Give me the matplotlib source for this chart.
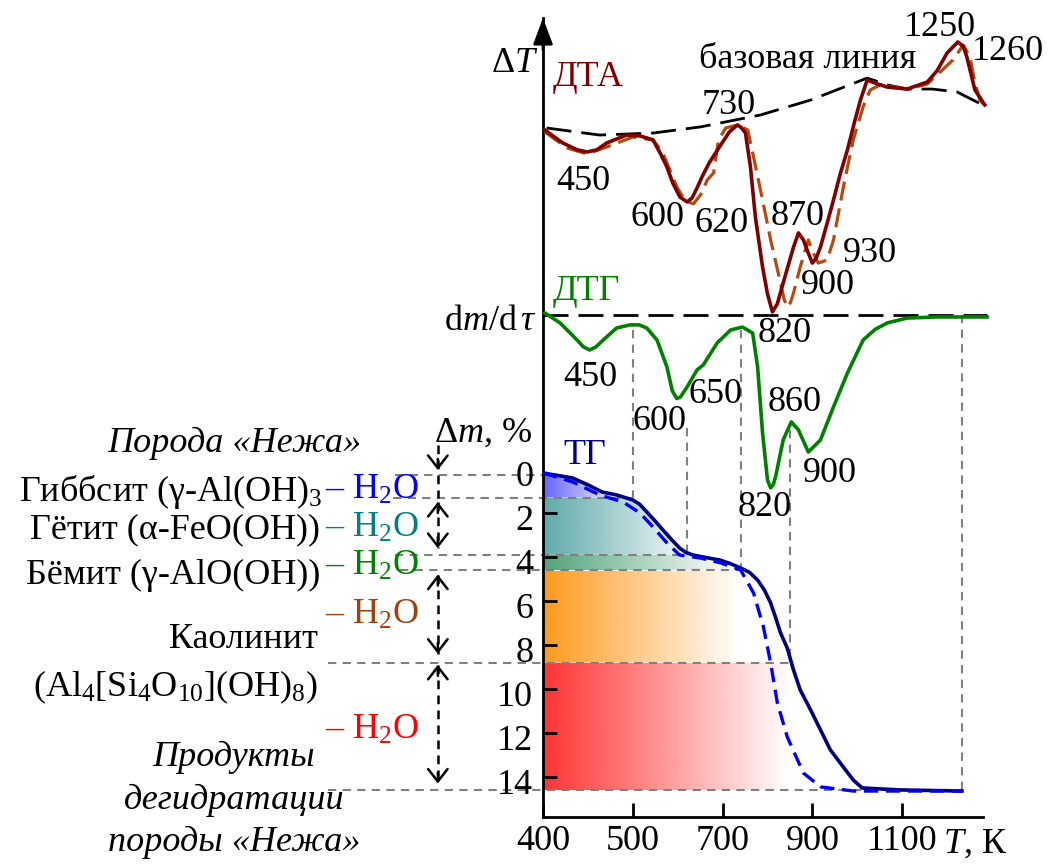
import numpy as np
import matplotlib
matplotlib.use('Agg')
import matplotlib.pyplot as plt
from matplotlib.colors import to_rgb
from matplotlib.patches import Polygon
from matplotlib.transforms import blended_transform_factory

plt.rcParams['font.family'] = ['Liberation Serif', 'DejaVu Serif']
plt.rcParams['mathtext.fontset'] = 'custom'
plt.rcParams['mathtext.rm'] = 'Liberation Serif'
plt.rcParams['mathtext.it'] = 'Liberation Serif:italic'
plt.rcParams['font.size'] = 26

# ── data ──────────────────────────────────────────────────────────────────────
# DTA (arbitrary units, relative to the starting level)
dta_T = [402, 422, 438, 449, 460, 471, 493, 516, 545, 561, 576, 589, 605, 621, 632,
         643, 654, 670, 693, 715, 733, 742, 751, 762, 773, 789, 800, 811, 822, 835,
         847, 858, 869, 880, 891, 900, 909, 918, 932, 947, 962, 978, 993, 1007, 1022,
         1044, 1067, 1111, 1156, 1178, 1200, 1224, 1236, 1244, 1262, 1284]
dta_v = [0, -0.59, -0.9, -1.0, -0.9, -0.59, -0.23, -0.27, -0.45, -1.05, -1.68, -2.41,
         -3.05, -3.27, -3.09, -2.64, -2.14, -1.5, -0.77, -0.09, 0.23, 0.1, -0.14, -1.68,
         -3.95, -6.23, -7.45, -8.27, -7.9, -6.95, -6.1, -5.32, -4.68, -5.0, -5.6, -6.05,
         -5.8, -5.32, -4.3, -3.18, -2.0, -0.91, 0.3, 1.36, 2.27, 2.1, 1.95, 1.86, 2.18,
         2.7, 3.5, 4.0, 3.8, 3.32, 1.82, 1.14]

# DTA, second run (dashed)
dta2_T = [402, 427, 449, 471, 500, 545, 567, 598, 616, 635, 651, 666, 680, 691, 707,
          733, 756, 769, 789, 807, 829, 837, 844, 851, 858, 873, 891, 902, 913, 933,
          947, 969, 991, 1013, 1029, 1051, 1111, 1156, 1213, 1236, 1251, 1262, 1273, 1284]
dta2_v = [-0.09, -0.82, -1.09, -0.77, -0.32, -0.45, -1.05, -2.59, -3.2, -3.36, -2.95,
          -2.27, -1.95, -0.45, 0.09, 0.23, 0.0, -1.23, -3.18, -5.0, -6.95, -7.7, -8.05,
          -7.85, -7.41, -6.23, -5.0, -5.59, -6.05, -5.91, -5.0, -2.59, -0.45, 1.05, 1.82,
          2.05, 1.86, 2.09, 3.18, 3.86, 3.32, 2.14, 1.36, 1.09]

# DTA baseline
base_T = [404, 463, 545, 651, 784, 896, 1022, 1067, 1111, 1167, 1222, 1284]
base_v = [0.09, -0.23, -0.14, 0.14, 0.68, 1.36, 2.36, 2.05, 1.86, 1.86, 1.73, 1.09]

# DTG (arbitrary units)
dtg_T = [402, 419, 438, 445, 452, 459, 467, 482, 497, 514, 531, 554, 576, 588, 598,
         606, 621, 643, 657, 688, 718, 744, 767, 778, 789, 800, 807, 813, 818, 835,
         853, 869, 891, 918, 947, 978, 1013, 1040, 1067, 1111, 1178, 1289]
dtg_v = [0.09, -0.36, -1.14, -1.45, -1.59, -1.45, -1.14, -0.59, -0.45, -0.45, -0.59,
         -1.14, -2.36, -3.45, -3.8, -3.73, -3.27, -2.5, -2.27, -1.27, -0.68, -0.55, -0.82,
         -2.36, -5.36, -7.5, -7.86, -7.7, -7.36, -5.68, -4.86, -5.23, -6.23, -5.68, -4.18,
         -2.64, -1.14, -0.65, -0.36, -0.14, -0.09, -0.09]

# TG, mass loss %
tg_T = [400, 433, 450, 466, 482, 500, 515, 531, 549, 567, 586, 604, 619, 634, 664,
        694, 717, 740, 760, 778, 793, 807, 818, 829, 844, 858, 873, 896, 940, 991,
        1011, 1096, 1233]
tg_dm = [0.18, 0.41, 0.72, 1.05, 1.18, 1.41, 1.6, 1.95, 2.35, 2.77, 3.2, 3.59, 3.8, 3.91,
         4.03, 4.14, 4.3, 4.5, 4.7, 5.05, 5.5, 6.09, 6.75, 7.45, 8.14, 9.14, 10.05, 10.95,
         12.77, 14.14, 14.5, 14.59, 14.64]
tg2_T = [400, 433, 463, 489, 516, 545, 576, 604, 651, 696, 740, 769, 791, 807, 822,
         844, 867, 880, 918, 991, 1233]
tg2_dm = [0.18, 0.59, 1.18, 1.5, 2.0, 2.64, 3.36, 3.91, 4.05, 4.27, 4.59, 5.64, 7.18,
          8.82, 10.64, 12.18, 13.23, 13.82, 14.45, 14.64, 14.64]

# stage boundaries (Δm, %) and the DTG temperatures they are tied to
stage_dm = [0.27, 1.3, 3.9, 4.6, 8.8, 14.6]
stage_T = [400, 500, 620, 742, 851, 1233]
guide_top = [0.0, -0.68, -5.14, -0.68, -5.23, 0.0]   # on the DTG scale

band_colors = ['#6464ff', '#5fa9a9', '#52a27a', '#ff9a1e', '#ff3333']
band_fade_T = [490, 650, 720, 740, 850]

x_ticks = [400, 500, 700, 900, 1100]
tg_ticks = [0, 2, 4, 6, 8, 10, 12, 14]

dta_peaks = [('730', 729, 105), ('450', 583, 182), ('600', 658, 218), ('620', 722, 223),
             ('870', 798, 217), ('900', 828, 285), ('930', 870, 253), ('820', 785, 333),
             ('1250', 940, 27), ('1260', 1008, 52)]
dtg_peaks = [('450', 590, 377), ('600', 660, 422), ('650', 715, 395), ('860', 795, 403),
             ('900', 830, 473), ('820', 765, 508)]

# ── figure ────────────────────────────────────────────────────────────────────
W, H = 1050, 865
fig = plt.figure(figsize=(W / 100, H / 100), dpi=100)
ax = fig.add_axes([543 / W, 1 - 817 / H, 440 / W, 799 / H])

# the temperature axis of the original is piecewise linear
T_KNOTS = [-5000, 400, 500, 700, 900, 1100, 1300, 5000]
P_KNOTS = [-54, 0, 1, 2, 3, 4, 5, 23.5]


def fwd(t):
    return np.interp(t, T_KNOTS, P_KNOTS)


def inv(p):
    return np.interp(p, P_KNOTS, T_KNOTS)


ax.set_xscale('function', functions=(fwd, inv))
XMAX = 1280
ax.set_xlim(400, XMAX)
ax.set_ylim(-15.82, 20.5)
ax.set_autoscale_on(False)

DTG_Y0 = 7.0
DTA_Y0 = 15.41
bt = blended_transform_factory(ax.transAxes, ax.transData)


def tfrac(T):
    return (fwd(T) - fwd(400)) / (fwd(XMAX) - fwd(400))


def put(px, py, s, **kw):
    kw.setdefault('ha', 'center')
    kw.setdefault('va', 'center')
    fig.text(px / W, 1 - py / H, s, **kw)


# gradient bands under the TG curve
tgd = np.array(tg_dm)
edges = [0.0] + stage_dm[1:]
for i, col in enumerate(band_colors):
    a, b = edges[i], edges[i + 1]
    ys = np.linspace(a, b, 80)
    xs = np.interp(ys, tgd, tg_T)
    poly = Polygon(np.column_stack([np.r_[400, xs, 400], -np.r_[a, ys, b]]),
                   closed=True, transform=ax.transData, fc='none', ec='none')
    ax.add_patch(poly)
    img = np.zeros((1, 256, 4))
    img[..., :3] = to_rgb(col)
    img[..., 3] = np.linspace(1, 0, 256)
    im = ax.imshow(img, extent=(0, tfrac(band_fade_T[i]), -b, -a), transform=bt,
                   aspect='auto', interpolation='bilinear', zorder=1)
    im.set_clip_path(poly)

# grey guide lines
left_frac = [-0.336, -0.341, -0.336, -0.325, -0.489, -0.489]
gkw = dict(color='#808080', lw=1.5, dashes=(4, 3), clip_on=False, zorder=2)
for dm, T, xl in zip(stage_dm, stage_T, left_frac):
    ax.plot([xl, tfrac(T)], [-dm, -dm], transform=bt, **gkw)
for dm, T, top in zip(stage_dm[1:], stage_T[1:], guide_top[1:]):
    ax.plot([T, T], [DTG_Y0 + top, -dm], **gkw)

# DTA
ax.plot(base_T, DTA_Y0 + np.array(base_v), color='k', lw=2, dashes=(9, 3.6),
        clip_on=False, zorder=3)
ax.plot(dta2_T, DTA_Y0 + np.array(dta2_v), color='#b34a0e', lw=2.3, dashes=(6, 2.5),
        clip_on=False, zorder=3)
ax.plot(dta_T, DTA_Y0 + np.array(dta_v), color='#800000', lw=2.6, clip_on=False,
        zorder=4, solid_joinstyle='round')

# DTG
ax.plot([400, 1289], [DTG_Y0, DTG_Y0], color='k', lw=2, dashes=(9, 3.6),
        clip_on=False, zorder=3)
ax.plot(dtg_T, DTG_Y0 + np.array(dtg_v), color='#008000', lw=2.6, clip_on=False,
        zorder=4, solid_joinstyle='round')

# TG
ax.plot(tg_T, -np.array(tg_dm), color='#000080', lw=2.6, zorder=4,
        solid_joinstyle='round')
ax.plot(tg2_T, -np.array(tg2_dm), color='#0000ff', lw=2.4, dashes=(4.3, 2.3), zorder=4)

# axes
for s in ['top', 'right']:
    ax.spines[s].set_visible(False)
ax.spines['left'].set_linewidth(2)
ax.spines['bottom'].set_linewidth(2)
ax.annotate('', xy=(0, 1), xycoords='axes fraction', xytext=(0, 0.96),
            arrowprops=dict(arrowstyle='-|>,head_length=0.8,head_width=0.3', color='k',
                            lw=2, mutation_scale=20, shrinkA=0, shrinkB=0))
ax.set_xticks(x_ticks)
ax.set_xticklabels([str(t) for t in x_ticks])
ax.tick_params(axis='x', direction='in', length=10, width=2, labelsize=26, pad=6)
ax.set_yticks([-v for v in tg_ticks[1:]])
ax.set_yticklabels([])
ax.tick_params(axis='y', direction='in', length=10, width=2)
for v in tg_ticks:
    ax.annotate(str(v), xy=(0, -v), xycoords=bt, xytext=(-7, -6),
                textcoords='offset points', ha='right', va='center', fontsize=26)

# arrows of the mass-loss stages
ax_x = -0.239
spans = [(-1.1, 0.05, False, True), (0.27, 1.3, False, False), (1.5, 3.6, True, True),
         (4.8, 8.4, True, True), (8.9, 14.3, True, True)]
akw = dict(arrowstyle='->,head_length=0.45,head_width=0.35', color='k', lw=1.8,
           mutation_scale=20, shrinkA=0, shrinkB=0)
for top, bot, h_top, h_bot in spans:
    ax.plot([ax_x, ax_x], [-top, -bot], transform=bt, color='k', lw=1.8,
            dashes=(3.5, 2.5), clip_on=False)
    if h_top:
        ax.annotate('', xy=(ax_x, -top), xycoords=bt, xytext=(ax_x, -top - 0.5),
                    textcoords=bt, arrowprops=akw)
    if h_bot:
        ax.annotate('', xy=(ax_x, -bot), xycoords=bt, xytext=(ax_x, -bot + 0.5),
                    textcoords=bt, arrowprops=akw)

# labels
put(515, 63, r'$\Delta T$', ha='center')
put(553, 78, 'ДТА', color='#800000', ha='left')
put(808, 60, 'базовая линия')
for s, px, py in dta_peaks + dtg_peaks:
    put(px, py, s)
put(553, 292, 'ДТГ', color='#008000', ha='left')
put(537, 322, r'd$m$/d$\,\tau$', ha='right')
put(483, 433, r'Δ$m$, %')
put(585, 455, 'ТГ', color='#000080')
put(975, 844, r'$T$, К')

put(234, 443, 'Порода «Нежа»', style='italic')
put(322, 492, r'Гиббсит (γ-Al(OH)$_3$', ha='right')
put(325, 490, r'– H$_2$O', color='#0000ff', ha='left')
put(320, 530, 'Гётит (α-FeO(OH))', ha='right')
put(325, 528, r'– H$_2$O', color='#008080', ha='left')
put(320, 575, 'Бёмит (γ-AlO(OH))', ha='right')
put(325, 566, r'– H$_2$O', color='#008000', ha='left')
put(325, 615, r'– H$_2$O', color='#a0400a', ha='left')
put(318, 640, 'Каолинит', ha='right')
put(318, 687, r'(Al$_4$[Si$_4$O$_{10}$](OH)$_8$)', ha='right')
put(325, 730, r'– H$_2$O', color='#ff0000', ha='left')
put(234, 757, 'Продукты', style='italic')
put(234, 800, 'дегидратации', style='italic')
put(234, 842, 'породы «Нежа»', style='italic')

fig.savefig('out.png', dpi=100)
